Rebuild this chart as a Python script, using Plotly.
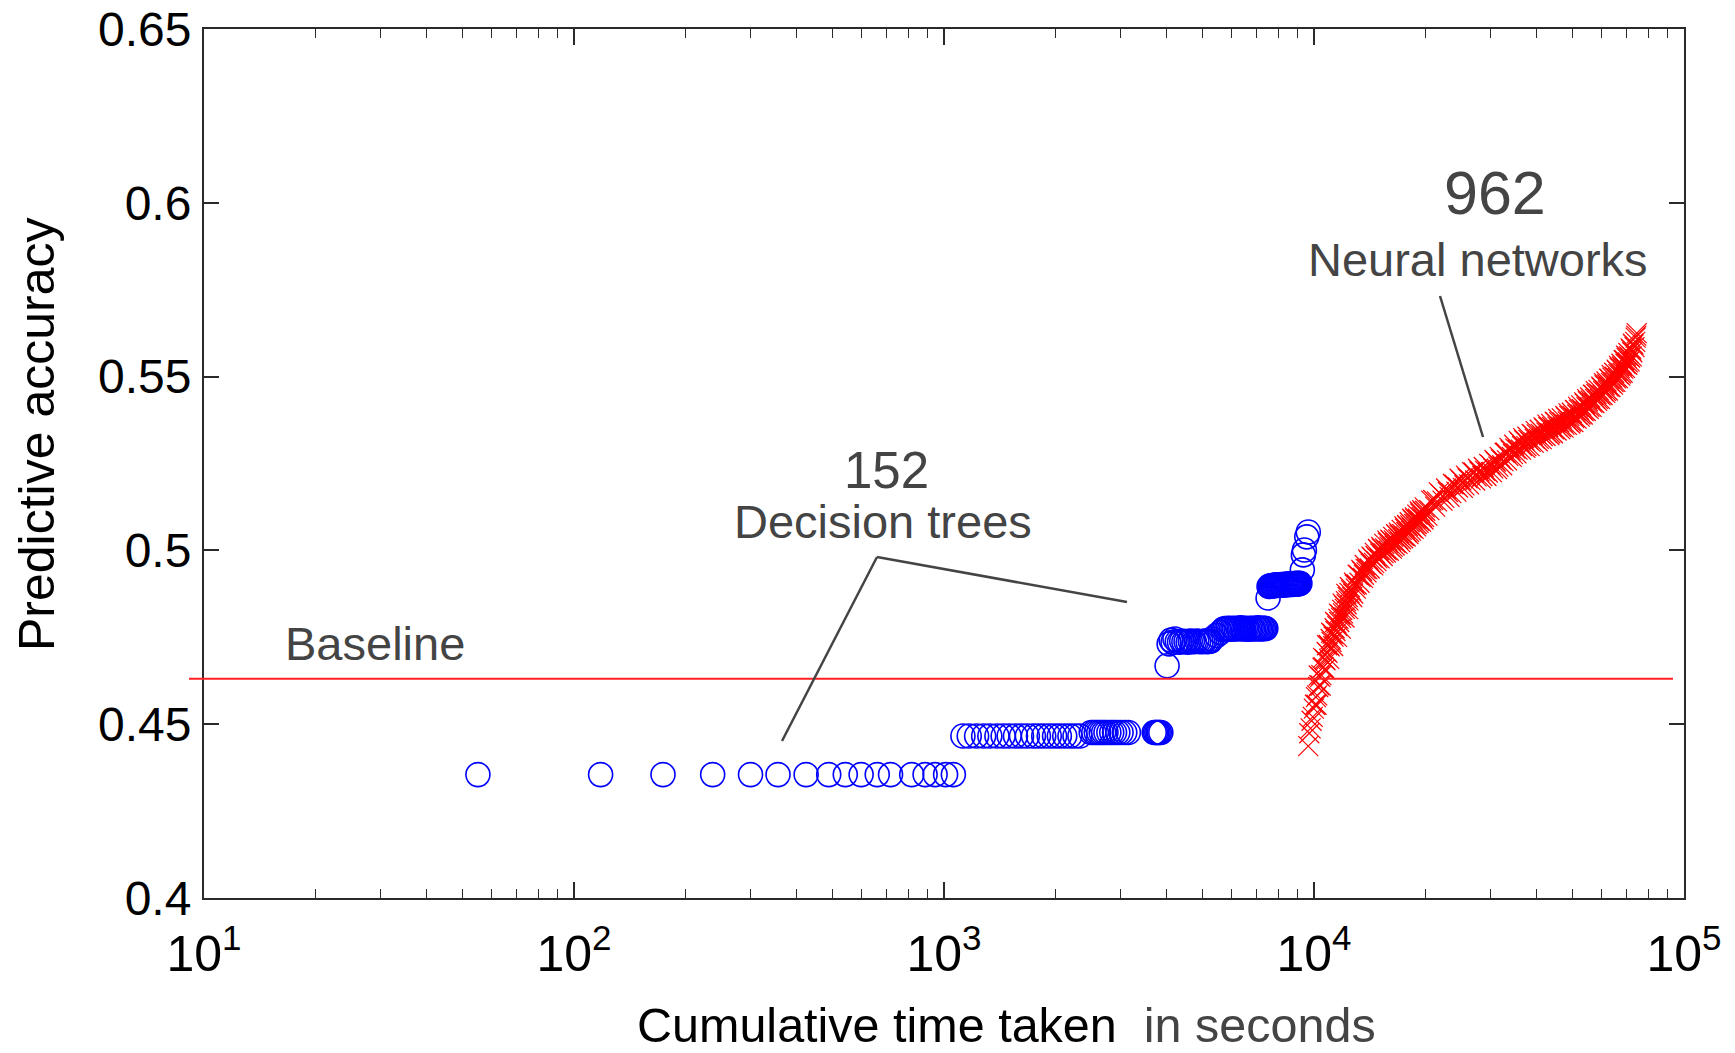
import plotly.graph_objects as go

# ---------------- data ----------------
# Decision trees: cumulative time (s) and predictive accuracy
dt_time = [
    55, 118, 174, 237, 300, 356, 424, 488, 541, 597, 660, 717, 818, 889, 946, 1010, 1060,
    1125, 1170, 1225, 1280, 1330, 1390, 1445, 1500, 1560, 1620, 1680, 1745, 1800, 1860, 1925,
    1990, 2050, 2120, 2190, 2260, 2330,
    2500, 2540, 2580, 2620, 2660, 2700, 2740, 2790, 2840, 2890, 2950, 3010, 3080, 3150,
    3700, 3730, 3760, 3790, 3820, 3855,
    4008,
    4060, 4110, 4160, 4210, 4270, 4330, 4390, 4450, 4510, 4570, 4630, 4690, 4750, 4820, 4880,
    4950, 5010, 5070, 5130, 5190, 5250,
    5300, 5450, 5580, 5680,
    5740, 5800, 5860, 5920, 5980, 6040, 6100, 6160, 6220, 6280, 6340, 6400, 6460, 6520, 6580,
    6640, 6700, 6760, 6820, 6880, 6940, 7000, 7060, 7120, 7180, 7240, 7300, 7360, 7410,
    7515,
    7560, 7610, 7660, 7710, 7760, 7810, 7860, 7910, 7960, 8010, 8060, 8110, 8160, 8210, 8260,
    8310, 8360, 8410, 8460, 8510, 8560, 8610, 8660, 8710, 8760, 8810, 8860, 8910, 8960, 9010,
    9060, 9110, 9160,
    9300, 9360, 9420, 9560, 9650,
]
dt_acc = [
    0.4355, 0.4355, 0.4355, 0.4355, 0.4355, 0.4355, 0.4355, 0.4355, 0.4355, 0.4355, 0.4355,
    0.4355, 0.4355, 0.4355, 0.4355, 0.4355, 0.4355,
    0.4466, 0.4466, 0.4466, 0.4466, 0.4466, 0.4466, 0.4466, 0.4466, 0.4466, 0.4466, 0.4466,
    0.4466, 0.4466, 0.4466, 0.4466, 0.4466, 0.4466, 0.4466, 0.4466, 0.4466, 0.4466,
    0.4476, 0.4476, 0.4476, 0.4476, 0.4476, 0.4476, 0.4476, 0.4476, 0.4476, 0.4476, 0.4476,
    0.4476, 0.4476, 0.4476, 0.4476, 0.4476, 0.4476, 0.4476, 0.4476, 0.4476,
    0.4668,
    0.4731, 0.4742, 0.4736, 0.4745, 0.4738, 0.4736, 0.4739, 0.4737, 0.4738, 0.4736, 0.4739,
    0.4738, 0.4737, 0.4739, 0.4738, 0.4737, 0.4738, 0.4739, 0.4737, 0.4738, 0.4739,
    0.4745, 0.4755, 0.4764, 0.4772,
    0.4775, 0.4774, 0.4776, 0.4775, 0.4773, 0.4776, 0.4775, 0.4774, 0.4776, 0.4775, 0.4777,
    0.4775, 0.4774, 0.4776, 0.4775, 0.4773, 0.4775, 0.4776, 0.4775, 0.4774, 0.4776, 0.4775,
    0.4777, 0.4775, 0.4774, 0.4776, 0.4775, 0.4776, 0.4775,
    0.4863,
    0.4896, 0.4898, 0.4897, 0.4899, 0.4898, 0.4900, 0.4899, 0.4901, 0.4900, 0.4899, 0.4901,
    0.4900, 0.4902, 0.4901, 0.4900, 0.4902, 0.4901, 0.4903, 0.4902, 0.4901, 0.4903, 0.4902,
    0.4904, 0.4903, 0.4902, 0.4904, 0.4903, 0.4905, 0.4904, 0.4903, 0.4905, 0.4904, 0.4905,
    0.4944, 0.4987, 0.5001, 0.5039, 0.5053,
]

# Neural networks: cumulative time (s) and predictive accuracy
nn_time = [
    9646, 9712, 9790, 9851, 9925, 9988, 10061, 10122, 10199, 10262, 10338, 10399, 10470, 10545,
    10604, 10680, 10741, 10818, 10880, 10957, 11019, 11094, 11155, 11231, 11292, 11370, 11428,
    11506, 11567, 11645, 11703, 11781, 11842, 11920, 11979, 12058, 12116, 12195, 12253, 12332,
    12391, 12470,
    10156, 10296, 10433, 10579, 10714, 10852, 10991, 11128, 11265, 11404, 11540, 11679, 11815,
    11954, 12092, 12229, 12366, 12504,
    12610, 12760, 12900, 13050, 13200, 13350, 13490, 13640, 13790, 13940, 14080, 14230, 14380,
    14530, 14670, 14820, 14970, 15120, 15260, 15410, 15560, 15710, 15850, 16000, 16150, 16300,
    16440, 16590, 16740, 16890, 17030, 17180, 17330, 17480, 17620, 17770, 17920, 18070, 18210,
    18360, 18510, 18660, 18800, 18950, 19100, 19250, 19390, 19540, 19690, 19840, 19980,
    12685, 12830, 12975, 13125, 13275, 13420, 13565, 13715, 13865, 14010, 14155, 14305, 14455,
    14600, 14745, 14895, 15045, 15190, 15335, 15485, 15635, 15780, 15925, 16075, 16225, 16370,
    16515, 16665, 16815, 16960, 17105, 17255, 17405, 17550, 17695, 17845, 17995, 18140, 18285,
    18435, 18585, 18730, 18875, 19025, 19175, 19320, 19465, 19615, 19765, 19910,
    20500, 21000, 21500, 22000, 22500, 23000, 23500, 24000, 24500, 25000, 25500, 26000, 26500,
    27000, 27500, 28000, 28500, 29000, 29500, 30000, 30500, 31000, 31500, 32000, 32500, 33000,
    33500, 34000, 34500, 35000, 35500, 36000, 36500, 37000, 37500, 38000, 38500, 39000, 39500,
    40000, 40500, 41000, 41500, 42000, 42500, 43000, 43500, 44000, 44500, 45000, 45500, 46000,
    46500, 47000, 47500, 48000, 48500, 49000, 49500, 50000, 50500, 51000, 51500, 52000, 52500,
    53000, 53500, 54000, 54500, 55000, 55500, 56000, 56500, 57000, 57500, 58000, 58500, 59000,
    59500, 60000, 60500, 61000, 61500, 62000, 62500, 63000, 63500, 64000, 64500, 65000, 65500,
    66000, 66500, 67000, 67500, 68000, 68500, 69000, 69500, 70000, 70500, 71000, 71500, 72000,
    72500, 73000, 73500, 73800, 74000, 74300, 74500,
    20250, 20750, 21250, 21750, 22250, 22750, 23250, 23750, 24250, 24750, 25250, 25750, 26250,
    26750, 27250, 27750, 28250, 28750, 29250, 29750, 30250, 30750, 31250, 31750, 32250, 32750,
    33250, 33750, 34250, 34750, 35250, 35750, 36250, 36750, 37250, 37750, 38250, 38750, 39250,
    39750, 40250, 40750, 41250, 41750, 42250, 42750, 43250, 43750, 44250, 44750, 45250, 45750,
    46250, 46750, 47250, 47750, 48250, 48750, 49250, 49750, 50250, 50750, 51250, 51750, 52250,
    52750, 53250, 53750, 54250, 54750, 55250, 55750, 56250, 56750, 57250, 57750, 58250, 58750,
    59250, 59750, 60250, 60750, 61250, 61750, 62250, 62750, 63250, 63750, 64250, 64750, 65250,
    65750, 66250, 66750, 67250, 67750, 68250, 68750, 69250, 69750, 70250, 70750, 71250, 71750,
    72250, 72750,
]
nn_acc = [
    0.4437, 0.4474, 0.4488, 0.4510, 0.4521, 0.4545, 0.4556, 0.4578, 0.4583, 0.4607, 0.4612,
    0.4636, 0.4641, 0.4662, 0.4664, 0.4687, 0.4684, 0.4708, 0.4705, 0.4728, 0.4724, 0.4745,
    0.4737, 0.4760, 0.4752, 0.4776, 0.4768, 0.4790, 0.4782, 0.4803, 0.4794, 0.4815, 0.4806,
    0.4829, 0.4819, 0.4841, 0.4832, 0.4854, 0.4845, 0.4866, 0.4856, 0.4878,
    0.4556, 0.4640, 0.4611, 0.4691, 0.4658, 0.4727, 0.4688, 0.4763, 0.4725, 0.4794, 0.4751,
    0.4818, 0.4775, 0.4847, 0.4807, 0.4875, 0.4831, 0.4894,
    0.4885, 0.4876, 0.4901, 0.4902, 0.4929, 0.4924, 0.4940, 0.4930, 0.4947, 0.4946, 0.4970,
    0.4962, 0.4979, 0.4964, 0.4984, 0.4978, 0.5001, 0.4991, 0.5005, 0.4992, 0.5006, 0.5001,
    0.5022, 0.5011, 0.5028, 0.5011, 0.5029, 0.5022, 0.5044, 0.5032, 0.5045, 0.5032, 0.5047,
    0.5042, 0.5063, 0.5053, 0.5070, 0.5053, 0.5072, 0.5066, 0.5087, 0.5076, 0.5090, 0.5076,
    0.5091, 0.5085, 0.5106, 0.5096, 0.5112, 0.5096, 0.5114,
    0.4866, 0.4907, 0.4890, 0.4930, 0.4907, 0.4944, 0.4921, 0.4958, 0.4937, 0.4974, 0.4948,
    0.4982, 0.4957, 0.4993, 0.4969, 0.5004, 0.4977, 0.5010, 0.4984, 0.5019, 0.4994, 0.5028,
    0.4999, 0.5031, 0.5005, 0.5039, 0.5014, 0.5047, 0.5019, 0.5051, 0.5024, 0.5059, 0.5035,
    0.5069, 0.5040, 0.5073, 0.5047, 0.5081, 0.5057, 0.5091, 0.5062, 0.5095, 0.5069, 0.5103,
    0.5079, 0.5112, 0.5083, 0.5116, 0.5089, 0.5124,
    0.5116, 0.5145, 0.5141, 0.5162, 0.5151, 0.5168, 0.5165, 0.5189, 0.5181, 0.5201, 0.5187,
    0.5207, 0.5202, 0.5224, 0.5213, 0.5227, 0.5214, 0.5229, 0.5224, 0.5246, 0.5236, 0.5255,
    0.5241, 0.5262, 0.5257, 0.5281, 0.5272, 0.5288, 0.5277, 0.5293, 0.5290, 0.5311, 0.5300,
    0.5317, 0.5300, 0.5318, 0.5312, 0.5333, 0.5321, 0.5334, 0.5321, 0.5335, 0.5329, 0.5350,
    0.5339, 0.5355, 0.5337, 0.5355, 0.5348, 0.5368, 0.5356, 0.5369, 0.5355, 0.5368, 0.5362,
    0.5383, 0.5371, 0.5387, 0.5370, 0.5387, 0.5381, 0.5402, 0.5391, 0.5405, 0.5391, 0.5406,
    0.5401, 0.5422, 0.5412, 0.5429, 0.5413, 0.5431, 0.5425, 0.5447, 0.5436, 0.5450, 0.5436,
    0.5451, 0.5446, 0.5468, 0.5458, 0.5475, 0.5459, 0.5478, 0.5471, 0.5493, 0.5482, 0.5497,
    0.5484, 0.5500, 0.5495, 0.5517, 0.5507, 0.5525, 0.5509, 0.5529, 0.5523, 0.5547, 0.5537,
    0.5553, 0.5541, 0.5558, 0.5555, 0.5578, 0.5570, 0.5592, 0.5585, 0.5600, 0.5612, 0.5618,
    0.5625,
    0.5100, 0.5143, 0.5126, 0.5167, 0.5143, 0.5178, 0.5154, 0.5191, 0.5169, 0.5206, 0.5180,
    0.5215, 0.5190, 0.5225, 0.5201, 0.5235, 0.5207, 0.5240, 0.5214, 0.5249, 0.5225, 0.5260,
    0.5234, 0.5269, 0.5245, 0.5281, 0.5259, 0.5295, 0.5269, 0.5304, 0.5279, 0.5315, 0.5290,
    0.5323, 0.5295, 0.5327, 0.5300, 0.5335, 0.5310, 0.5343, 0.5314, 0.5347, 0.5320, 0.5354,
    0.5329, 0.5362, 0.5332, 0.5364, 0.5337, 0.5370, 0.5345, 0.5378, 0.5349, 0.5380, 0.5353,
    0.5387, 0.5361, 0.5394, 0.5365, 0.5396, 0.5369, 0.5404, 0.5379, 0.5413, 0.5385, 0.5417,
    0.5391, 0.5426, 0.5401, 0.5435, 0.5407, 0.5440, 0.5413, 0.5448, 0.5424, 0.5458, 0.5430,
    0.5462, 0.5436, 0.5471, 0.5447, 0.5481, 0.5453, 0.5486, 0.5460, 0.5494, 0.5470, 0.5505,
    0.5477, 0.5511, 0.5485, 0.5520, 0.5496, 0.5531, 0.5503, 0.5537, 0.5511, 0.5547, 0.5525,
    0.5560, 0.5534, 0.5568, 0.5544, 0.5581, 0.5558, 0.5595,
]

baseline_acc = 0.4631

x_tick_vals = [10, 100, 1000, 10000, 100000]
x_tick_text = ["10<sup>1</sup>", "10<sup>2</sup>", "10<sup>3</sup>", "10<sup>4</sup>", "10<sup>5</sup>"]
x_minor_vals = [20, 30, 40, 50, 60, 70, 80, 90,
                200, 300, 400, 500, 600, 700, 800, 900,
                2000, 3000, 4000, 5000, 6000, 7000, 8000, 9000,
                20000, 30000, 40000, 50000, 60000, 70000, 80000, 90000]
y_tick_vals = [0.4, 0.45, 0.5, 0.55, 0.6, 0.65]
y_tick_text = ["0.4", "0.45", "0.5", "0.55", "0.6", "0.65"]

# ---------------- layout geometry ----------------
# the page body margin is removed (post_script), so the figure fills the 1735x1053 page
W, H = 1735, 1053
PL, PR, PT, PB = 204, 1684, 29, 898          # plot area in page pixels
L, T = PL, PT
R, B = W - PR, H - PB
PW, PH = PR - PL, PB - PT


def fx(p):
    return (p - PL) / PW


def fy(p):
    return (PB - p) / PH


FONT = "Liberation Sans, Arial, Helvetica, sans-serif"
GRAY = "#444444"
AX = "#2a2a2a"

fig = go.Figure()
fig.add_trace(go.Scatter(
    x=dt_time, y=dt_acc, mode="markers", name="Decision trees",
    marker=dict(symbol="circle-open", size=24, color="#0000ff", line=dict(width=1.6, color="#0000ff")),
))
fig.add_trace(go.Scatter(
    x=nn_time, y=nn_acc, mode="markers", name="Neural networks",
    marker=dict(symbol="x-thin-open", size=20, color="#ff0000", line=dict(width=1.2, color="#ff0000")),
))

shapes = [
    # baseline
    dict(type="line", xref="paper", yref="paper", x0=fx(189), x1=fx(1673),
         y0=(baseline_acc - 0.4) / 0.25, y1=(baseline_acc - 0.4) / 0.25,
         line=dict(color="#ff2020", width=2)),
    # neural networks pointer
    dict(type="line", xref="paper", yref="paper", x0=fx(1440), y0=fy(296), x1=fx(1483), y1=fy(437),
         line=dict(color=GRAY, width=2.5)),
    # decision trees pointers
    dict(type="line", xref="paper", yref="paper", x0=fx(877), y0=fy(557), x1=fx(782), y1=fy(741),
         line=dict(color=GRAY, width=2.5)),
    dict(type="line", xref="paper", yref="paper", x0=fx(877), y0=fy(557), x1=fx(1127), y1=fy(602),
         line=dict(color=GRAY, width=2.5)),
]

annotations = [
    dict(text="962", x=fx(1495), y=fy(193), font=dict(size=61, color=GRAY, family=FONT)),
    dict(text="Neural networks", x=fx(1478), y=fy(259), font=dict(size=47, color=GRAY, family=FONT)),
    dict(text="152", x=fx(886), y=fy(470), font=dict(size=51, color=GRAY, family=FONT)),
    dict(text="Decision trees", x=fx(883), y=fy(521), font=dict(size=47, color=GRAY, family=FONT)),
    dict(text="Baseline", x=fx(375), y=fy(643), font=dict(size=47, color=GRAY, family=FONT)),
    dict(text="Predictive accuracy", x=fx(37), y=fy(434), textangle=-90,
         font=dict(size=50, color="#000000", family=FONT)),
    dict(text="Cumulative time taken\u00a0 <span style='color:#444444'>in seconds</span>",
         x=fx(1006), y=fy(1025), font=dict(size=48.5, color="#000000", family=FONT)),
]
for a in annotations:
    a.update(xref="paper", yref="paper", showarrow=False, xanchor="center", yanchor="middle")

fig.update_layout(
    width=W, height=H,
    margin=dict(l=L, r=R, t=T, b=B, autoexpand=False),
    paper_bgcolor="white", plot_bgcolor="white",
    showlegend=False, hovermode=False,
    font=dict(family=FONT, color="#000000"),
    shapes=shapes, annotations=annotations,
    xaxis=dict(
        type="log", range=[1, 5], tickmode="array", tickvals=x_tick_vals, ticktext=x_tick_text,
        ticks="inside", ticklen=16, tickwidth=1.5, tickcolor=AX,
        minor=dict(tickmode="array", tickvals=x_minor_vals, ticks="inside", ticklen=9,
                   tickwidth=1.2, tickcolor=AX, showgrid=False),
        showline=True, linecolor=AX, linewidth=2, mirror="ticks",
        showgrid=False, zeroline=False, automargin=False,
        tickfont=dict(size=50, color="#000000", family=FONT),
        ticklabelstandoff=11, ticklabeloverflow="allow",
    ),
    yaxis=dict(
        range=[0.4, 0.65], tickmode="array", tickvals=y_tick_vals, ticktext=y_tick_text,
        ticks="inside", ticklen=15, tickwidth=1.5, tickcolor=AX,
        showline=True, linecolor=AX, linewidth=2, mirror="ticks",
        showgrid=False, zeroline=False, automargin=False,
        tickfont=dict(size=48, color="#000000", family=FONT),
        ticklabelstandoff=1, ticklabeloverflow="allow",
    ),
)

fig.write_html(
    "out.html",
    config={"displayModeBar": False},
    post_script="document.body.style.margin='0px'; document.body.style.overflow='hidden';",
)
